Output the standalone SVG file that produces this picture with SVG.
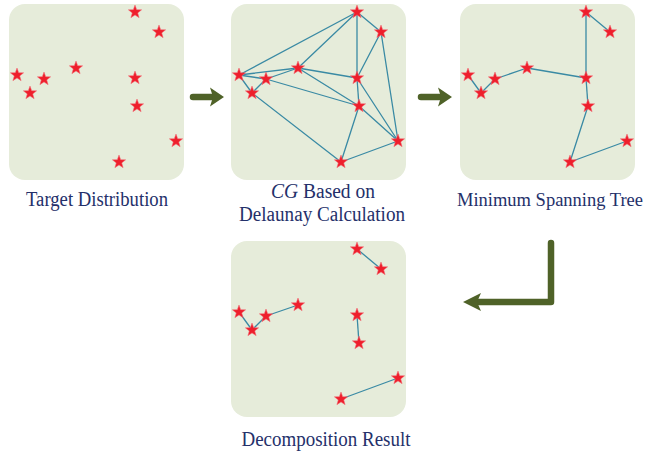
<svg xmlns="http://www.w3.org/2000/svg" xmlns:xlink="http://www.w3.org/1999/xlink" width="647" height="455" viewBox="0 0 647 455">
  <defs>
    <style>
      .panel { fill: #E6ECDA; }
      .edge { stroke: #3A8AA4; stroke-width: 1.3; fill: none; stroke-linecap: round; }
      .star { fill: #EE1F2C; stroke: #F26A74; stroke-width: 0.5; stroke-linejoin: round; }
      .label { font-family: "Liberation Serif", "DejaVu Serif", "Times New Roman", serif; font-size: 20px; fill: #24306A; text-anchor: middle; }
      .shaft { stroke: #4F6228; stroke-width: 6.5; fill: none; stroke-linecap: round; stroke-linejoin: round; }
      .head { fill: #4F6228; }
    </style>
    <path id="star" class="star" d="M0,-7 L1.7,-2.35 6.66,-2.16 2.76,0.9 4.11,5.66 0,2.9 -4.11,5.66 -2.76,0.9 -6.66,-2.16 -1.7,-2.35Z"/>
    <!-- the ten targets, in panel-local coordinates -->
    <g id="stars">
      <use xlink:href="#star" x="126" y="8"/>
      <use xlink:href="#star" x="150" y="28"/>
      <use xlink:href="#star" x="8" y="71"/>
      <use xlink:href="#star" x="35" y="75"/>
      <use xlink:href="#star" x="21" y="89"/>
      <use xlink:href="#star" x="67" y="64"/>
      <use xlink:href="#star" x="126" y="74"/>
      <use xlink:href="#star" x="128" y="102"/>
      <use xlink:href="#star" x="167" y="137"/>
      <use xlink:href="#star" x="110" y="158"/>
    </g>
  </defs>

  <!-- Target distribution -->
  <g id="target-distribution" transform="translate(9,4)">
    <rect class="panel" x="0" y="0" width="175" height="176" rx="16"/>
    <use xlink:href="#stars"/>
  </g>

  <!-- Delaunay-based connection graph -->
  <g id="delaunay-graph" transform="translate(231,4)">
    <rect class="panel" x="0" y="0" width="175" height="176" rx="16"/>
    <g class="edge">
      <line x1="8" y1="71" x2="126" y2="8"/>
      <line x1="8" y1="71" x2="67" y2="64"/>
      <line x1="8" y1="71" x2="35" y2="75"/>
      <line x1="8" y1="71" x2="21" y2="89"/>
      <line x1="21" y1="89" x2="35" y2="75"/>
      <line x1="35" y1="75" x2="67" y2="64"/>
      <line x1="35" y1="75" x2="128" y2="102"/>
      <line x1="67" y1="64" x2="126" y2="8"/>
      <line x1="67" y1="64" x2="126" y2="74"/>
      <line x1="67" y1="64" x2="128" y2="102"/>
      <line x1="126" y1="8" x2="126" y2="74"/>
      <line x1="126" y1="8" x2="150" y2="28"/>
      <line x1="150" y1="28" x2="126" y2="74"/>
      <line x1="150" y1="28" x2="167" y2="137"/>
      <line x1="126" y1="74" x2="128" y2="102"/>
      <line x1="126" y1="74" x2="167" y2="137"/>
      <line x1="128" y1="102" x2="167" y2="137"/>
      <line x1="128" y1="102" x2="110" y2="158"/>
      <line x1="21" y1="89" x2="110" y2="158"/>
      <line x1="110" y1="158" x2="167" y2="137"/>
    </g>
    <use xlink:href="#stars"/>
  </g>

  <!-- Minimum spanning tree -->
  <g id="spanning-tree" transform="translate(460,4)">
    <rect class="panel" x="0" y="0" width="175" height="176" rx="16"/>
    <g class="edge">
      <line x1="126" y1="8" x2="150" y2="28"/>
      <line x1="126" y1="8" x2="126" y2="74"/>
      <line x1="8" y1="71" x2="21" y2="89"/>
      <line x1="21" y1="89" x2="35" y2="75"/>
      <line x1="35" y1="75" x2="67" y2="64"/>
      <line x1="67" y1="64" x2="126" y2="74"/>
      <line x1="126" y1="74" x2="128" y2="102"/>
      <line x1="128" y1="102" x2="110" y2="158"/>
      <line x1="110" y1="158" x2="167" y2="137"/>
    </g>
    <use xlink:href="#stars"/>
  </g>

  <!-- Decomposition result -->
  <g id="decomposition" transform="translate(231,241)">
    <rect class="panel" x="0" y="0" width="175" height="176" rx="16"/>
    <g class="edge">
      <line x1="126" y1="8" x2="150" y2="28"/>
      <line x1="8" y1="71" x2="21" y2="89"/>
      <line x1="21" y1="89" x2="35" y2="75"/>
      <line x1="35" y1="75" x2="67" y2="64"/>
      <line x1="126" y1="74" x2="128" y2="102"/>
      <line x1="110" y1="158" x2="167" y2="137"/>
    </g>
    <use xlink:href="#stars"/>
  </g>

  <!-- captions -->
  <g id="captions">
    <text class="label" x="97" y="206" textLength="142" lengthAdjust="spacingAndGlyphs">Target Distribution</text>
    <text class="label" x="323" y="198" textLength="104" lengthAdjust="spacingAndGlyphs"><tspan font-style="italic">CG</tspan> Based on</text>
    <text class="label" x="322" y="221" textLength="166" lengthAdjust="spacingAndGlyphs">Delaunay Calculation</text>
    <text class="label" x="550" y="206" style="font-size:18.5px">Minimum Spanning Tree</text>
    <text class="label" x="326" y="446" textLength="169" lengthAdjust="spacingAndGlyphs">Decomposition Result</text>
  </g>

  <!-- flow arrows -->
  <g id="connectors">
    <line class="shaft" x1="193" y1="97" x2="214" y2="97"/>
    <polygon class="head" points="210,87.5 224,97 210,106.5 213,97"/>
    <line class="shaft" x1="421" y1="97" x2="442" y2="97"/>
    <polygon class="head" points="438,87.5 452,97 438,106.5 441,97"/>
    <path class="shaft" d="M551,243 V302 H475" stroke-width="5.5" stroke-linecap="round"/>
    <polygon class="head" points="481,293 463,302 481,311 477,302"/>
  </g>
</svg>
